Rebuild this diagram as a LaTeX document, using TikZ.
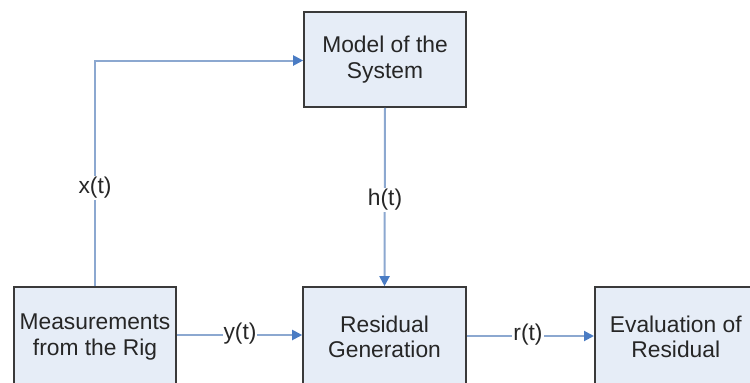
\documentclass[tikz,border=0pt]{standalone}
\usepackage{fontspec}
\setmainfont{Liberation Sans}
\usetikzlibrary{arrows.meta}
\definecolor{boxfill}{HTML}{E6EDF7}
\definecolor{boxline}{HTML}{3A3A3A}
\definecolor{conn}{HTML}{8CA8D0}
\definecolor{tipc}{HTML}{4A7CC4}
\definecolor{txt}{HTML}{262626}
\tikzset{
  blk/.style={draw=boxline, fill=boxfill, line width=1.6pt, minimum width=162pt, align=center,
    font=\fontsize{22.8}{25.5}\selectfont, text=txt, inner sep=0pt},
  conn/.style={draw=conn, line width=2pt, -{Triangle[length=10pt,width=10pt,color=tipc]}},
  lbl/.style={fill=white, inner sep=1pt, text=txt, font=\fontsize{22.8}{26}\selectfont}
}
\begin{document}
\begin{tikzpicture}[x=1pt,y=-1pt]
\useasboundingbox (0,0) rectangle (750,383);
\node[blk, minimum height=95pt] (model) at (385,59.5) {Model of the\\System};
\node[blk, minimum height=100pt] (meas) at (95,337) {Measurements\\from the Rig};
\node[blk, minimum height=100pt, minimum width=163pt] (res) at (384.5,337) {Residual\\Generation};
\node[blk, minimum height=100pt, anchor=west] (eval) at (594,337) {Evaluation of\\Residual};
\coordinate (corner) at (95,60.5);
\draw[conn] (meas.north) -- (corner) -- (model.west |- corner);
\node[lbl] (xl) at (95,188) {x(t)};
\draw[conn] (model.south) -- (res.north);
\node[lbl] (hl) at (385,200) {h(t)};
\draw[conn] (meas.east |- 0,335) -- (res.west |- 0,335);
\node[lbl] (yl) at (240,334) {y(t)};
\draw[conn] (res.east |- 0,336) -- (eval.west |- 0,336);
\node[lbl] (rl) at (528,335) {r(t)};
\end{tikzpicture}
\end{document}
